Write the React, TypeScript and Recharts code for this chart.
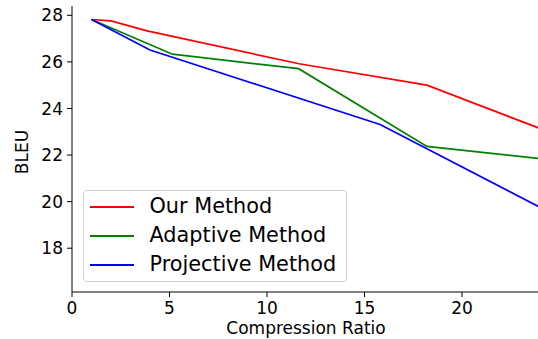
import React from 'react';
import { LineChart, Line, XAxis, YAxis, Legend } from 'recharts';

const ourRatio = [1, 2, 3.85, 11.65, 18.2, 24];
const ourBleu = [27.82, 27.76, 27.33, 25.92, 25.0, 23.14];
const adaptiveRatio = [1, 5.15, 11.62, 18.2, 24];
const adaptiveBleu = [27.82, 26.33, 25.71, 22.37, 21.85];
const projectiveRatio = [1, 4.0, 15.8, 24];
const projectiveBleu = [27.82, 26.51, 23.31, 19.76];
const xTicks = [0, 5, 10, 15, 20];
const yTicks = [18, 20, 22, 24, 26, 28];

const seriesNames = ['Our Method', 'Adaptive Method', 'Projective Method'];
const seriesColors = ['#ff0000', '#008000', '#0000ff'];

const zip = (xs: number[], ys: number[]) => xs.map((x, i) => ({ x, y: ys[i] }));
const ourData = zip(ourRatio, ourBleu);
const adaptiveData = zip(adaptiveRatio, adaptiveBleu);
const projectiveData = zip(projectiveRatio, projectiveBleu);

const FONT = '"DejaVu Sans", sans-serif';

const renderLegend = () => (
  <div
    style={{
      width: 264,
      height: 92,
      border: '1px solid #d0d0d0',
      borderRadius: 4,
      background: 'rgba(255,255,255,0.8)',
      boxSizing: 'border-box',
      paddingTop: 1,
      fontFamily: FONT,
      fontSize: 20.8,
      color: '#000',
    }}
  >
    {seriesNames.map((name, i) => (
      <div key={name} style={{ height: 29, display: 'flex', alignItems: 'center' }}>
        <div style={{ marginLeft: 6, width: 44, height: 0, borderTop: `2px solid ${seriesColors[i]}` }} />
        <span style={{ marginLeft: 15.5, lineHeight: '29px', whiteSpace: 'nowrap' }}>{name}</span>
      </div>
    ))}
  </div>
);

const YLabel = (props: any) => {
  const vb = props.viewBox || { x: 0, y: 6, width: 72, height: 286 };
  const cx = 27.5;
  const cy = vb.y + vb.height / 2 + 3;
  return (
    <text
      x={cx}
      y={cy}
      transform={`rotate(-90 ${cx} ${cy})`}
      textAnchor="middle"
      fontFamily={FONT}
      fontSize={17}
      fill="#000"
    >
      BLEU
    </text>
  );
};

export default function App() {
  return (
    <div style={{ position: 'absolute', left: 0, top: 0, width: 538, height: 339, overflow: 'hidden', background: '#fff' }}>
      <LineChart width={560} height={339} margin={{ top: 6, right: 20, bottom: 0, left: 0 }}>
        <XAxis
          dataKey="x"
          type="number"
          domain={[0, 24]}
          allowDataOverflow
          ticks={xTicks}
          tickSize={5}
          tickMargin={5}
          height={47}
          stroke="#000"
          axisLine={{ stroke: '#000', strokeWidth: 1 }}
          tickLine={{ stroke: '#000' }}
          tick={{ fill: '#000', fontSize: 17, fontFamily: FONT }}
          label={{ value: 'Compression Ratio', position: 'insideBottom', offset: 5, fill: '#000', fontSize: 17, fontFamily: FONT }}
        />
        <XAxis
          xAxisId="top"
          orientation="top"
          dataKey="x"
          type="number"
          domain={[0, 24]}
          height={0}
          tick={false}
          tickLine={false}
          axisLine={{ stroke: '#000', strokeWidth: 1 }}
        />
        <YAxis
          dataKey="y"
          type="number"
          domain={[16.12, 28.4]}
          allowDataOverflow
          ticks={yTicks}
          width={72}
          tickSize={5}
          tickMargin={4}
          axisLine={{ stroke: '#000', strokeWidth: 1 }}
          tickLine={{ stroke: '#000' }}
          tick={{ fill: '#000', fontSize: 17, fontFamily: FONT }}
          label={<YLabel />}
        />
        <Legend
          layout="vertical"
          align="center"
          verticalAlign="middle"
          content={renderLegend}
          wrapperStyle={{ left: 83, top: 190, width: 264, height: 92 }}
        />
        <Line data={ourData} dataKey="y" name={seriesNames[0]} stroke={seriesColors[0]} strokeWidth={1.7} dot={false} isAnimationActive={false} type="linear" />
        <Line data={adaptiveData} dataKey="y" name={seriesNames[1]} stroke={seriesColors[1]} strokeWidth={1.7} dot={false} isAnimationActive={false} type="linear" />
        <Line data={projectiveData} dataKey="y" name={seriesNames[2]} stroke={seriesColors[2]} strokeWidth={1.7} dot={false} isAnimationActive={false} type="linear" />
      </LineChart>
    </div>
  );
}
